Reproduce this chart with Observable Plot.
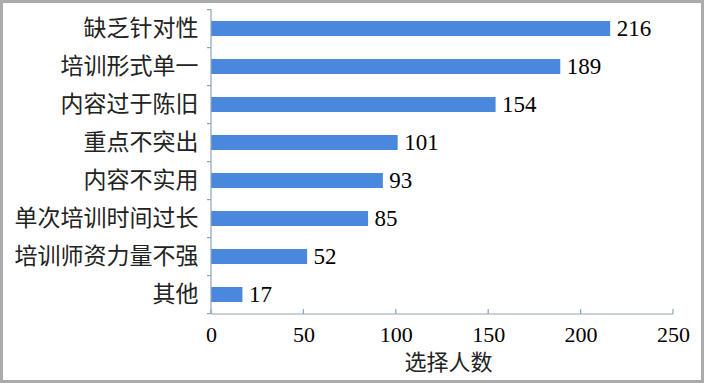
<!DOCTYPE html>
<html>
<head>
<meta charset="utf-8">
<script src="https://cdn.jsdelivr.net/npm/d3@7"></script>
<script src="https://cdn.jsdelivr.net/npm/@observablehq/plot@0.6"></script>
<style>
  html, body { margin: 0; padding: 0; background: #fff; }
  #frame { width: 704px; height: 383px; box-sizing: border-box; border: 3px solid #ababab; background: #fff; overflow: hidden; }
  #frame svg { display: block; }
</style>
</head>
<body>
<div id="frame"></div>
<script>
const categories = ["缺乏针对性", "培训形式单一", "内容过于陈旧", "重点不突出", "内容不实用", "单次培训时间过长", "培训师资力量不强", "其他"];
const values = [216, 189, 154, 101, 93, 85, 52, 17];
const xTicks = [0, 50, 100, 150, 200, 250];
const xLabel = "选择人数";

const data = categories.map((c, i) => ({category: c, value: values[i]}));

const barColor = "#4a88dd";
const axisColor = "#8fa3b6";
const cjk = "'Noto Sans CJK SC', sans-serif";
const serif = "'Liberation Serif', 'DejaVu Serif', serif";
const paddingInner = 0.6;

function axesMark(index, scales, vals, dims) {
  const g = d3.create("svg:g").attr("stroke", axisColor).attr("stroke-width", 1.2).attr("fill", "none");
  const x = scales.x, y = scales.y;
  const top = dims.marginTop, bottom = dims.height - dims.marginBottom;
  const x0 = x(xTicks[0]), x1 = x(xTicks[xTicks.length - 1]);
  g.append("line").attr("x1", x0).attr("x2", x0).attr("y1", top).attr("y2", bottom);
  g.append("line").attr("x1", x0).attr("x2", x1).attr("y1", bottom).attr("y2", bottom);
  xTicks.forEach(t => {
    g.append("line").attr("x1", x(t)).attr("x2", x(t)).attr("y1", bottom).attr("y2", bottom - 5);
  });
  const step = y(categories[1]) - y(categories[0]);
  const bw = step * (1 - paddingInner);
  const bounds = categories.map(c => y(c) + bw / 2 - step / 2);
  bounds.push(bounds[bounds.length - 1] + step);
  bounds.forEach(b => {
    g.append("line").attr("x1", x0 - 4).attr("x2", x0).attr("y1", b).attr("y2", b);
  });
  return g.node();
}

const plot = Plot.plot({
  width: 698,
  height: 377,
  marginLeft: 208,
  marginRight: 28,
  marginTop: 6,
  marginBottom: 66,
  x: {domain: [0, 250], axis: null},
  y: {domain: categories, axis: null, paddingInner: paddingInner, paddingOuter: paddingInner / 2},
  marks: [
    Plot.barX(data, {x: "value", y: "category", fill: barColor}),
    axesMark,
    Plot.text(data, {x: "value", y: "category", text: d => String(d.value), textAnchor: "start", dx: 6, fontSize: 23, fontFamily: serif, fill: "#000"}),
    Plot.text(categories, {x: 0, y: d => d, text: d => d, textAnchor: "end", dx: -13, fontSize: 23, fontFamily: cjk, fill: "#222"}),
    Plot.text(xTicks, {x: d => d, frameAnchor: "bottom", lineAnchor: "middle", text: d => String(d), dy: 20, fontSize: 22, fontFamily: serif, fill: "#000"}),
    Plot.text([xLabel], {frameAnchor: "bottom", lineAnchor: "middle", text: d => d, dy: 48, dx: 6, fontSize: 22, fontFamily: cjk, fill: "#222"})
  ]
});
document.getElementById("frame").appendChild(plot);
</script>
</body>
</html>
